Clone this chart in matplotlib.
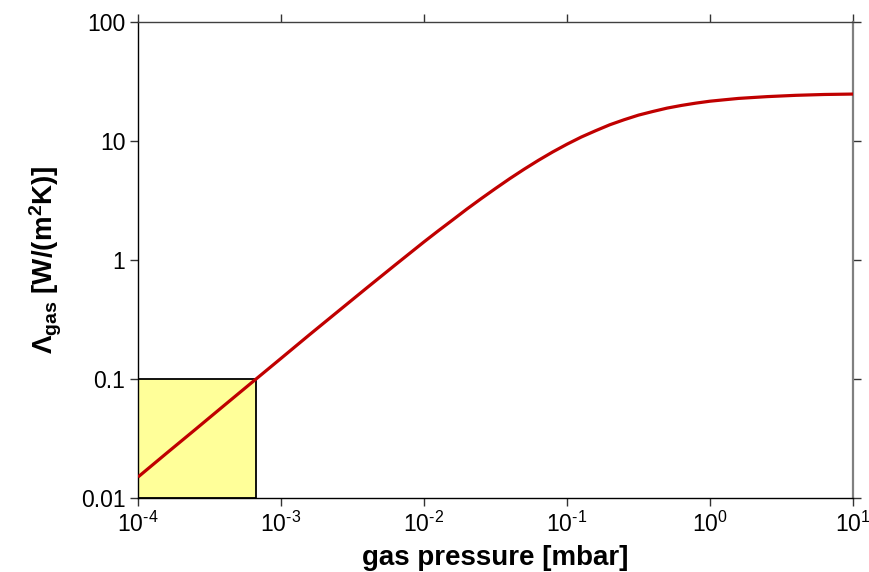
import matplotlib
matplotlib.use("Agg")
import matplotlib.pyplot as plt
from matplotlib.patches import Rectangle
from matplotlib.ticker import FixedLocator, FixedFormatter, NullLocator

plt.rcParams['font.family'] = ['Liberation Sans', 'DejaVu Sans']
plt.rcParams['mathtext.fontset'] = 'custom'
plt.rcParams['mathtext.rm'] = 'Liberation Sans'
plt.rcParams['mathtext.bf'] = 'Liberation Sans:bold'
plt.rcParams['mathtext.it'] = 'Liberation Sans:italic'

# gas pressure [mbar] and thermal conductance
pressure = [1e-4, 1.585e-4, 2.512e-4, 3.981e-4, 6.31e-4, 1e-3, 1.585e-3, 2.512e-3,
            3.981e-3, 6.31e-3, 1e-2, 1.259e-2, 1.585e-2, 1.995e-2, 2.512e-2, 3.162e-2,
            3.981e-2, 5.012e-2, 6.31e-2, 7.943e-2, 0.1, 0.1259, 0.1585, 0.1995,
            0.2512, 0.3162, 0.3981, 0.5012, 0.631, 0.7943, 1.0, 1.259, 1.585, 1.995,
            2.512, 3.162, 3.981, 5.012, 6.31, 7.943, 10.0]
lambda_gas = [0.0150, 0.0238, 0.0376, 0.0596, 0.0943, 0.149, 0.236, 0.371,
              0.583, 0.912, 1.42, 1.76, 2.17, 2.68, 3.28, 3.99,
              4.83, 5.79, 6.88, 8.09, 9.40, 10.8, 12.2, 13.7,
              15.1, 16.5, 17.7, 18.9, 19.9, 20.8, 21.6, 22.2, 22.8, 23.2,
              23.6, 23.9, 24.2, 24.4, 24.6, 24.7, 24.8]

# highlighted region
box_x = [1e-4, 6.7e-4]
box_y = [0.01, 0.1]

xticks = [1e-4, 1e-3, 1e-2, 1e-1, 1e0, 1e1]
xticklabels = [r'$10^{‐4}$', r'$10^{‐3}$', r'$10^{‐2}$', r'$10^{‐1}$', r'$10^{0}$', r'$10^{1}$']
yticks = [0.01, 0.1, 1, 10, 100]
yticklabels = ['0.01', '0.1', '1', '10', '100']

fig = plt.figure(figsize=(8.7, 5.72), dpi=100)
ax = fig.add_axes([138/870, 1-498/572, (853-138)/870, (498-22)/572])
ax.set_xscale('log')
ax.set_yscale('log')
ax.set_xlim(1e-4, 1e1)
ax.set_ylim(0.01, 100)

ax.add_patch(Rectangle((box_x[0], box_y[0]), box_x[1]-box_x[0], box_y[1]-box_y[0],
                       facecolor='#FFFF99', edgecolor='black', linewidth=1.3, zorder=2))
ax.plot(pressure, lambda_gas, color='#C00000', linewidth=2.3, zorder=3,
        solid_joinstyle='round', solid_capstyle='butt')

ax.xaxis.set_major_locator(FixedLocator(xticks))
ax.xaxis.set_major_formatter(FixedFormatter(xticklabels))
ax.xaxis.set_minor_locator(NullLocator())
ax.yaxis.set_major_locator(FixedLocator(yticks))
ax.yaxis.set_major_formatter(FixedFormatter(yticklabels))
ax.yaxis.set_minor_locator(NullLocator())

ax.tick_params(axis='both', which='major', direction='out', length=6, width=1,
               labelsize=16.5, top=True, right=True, color='#333333')
ax.tick_params(axis='x', pad=4)
ax.tick_params(axis='y', pad=3)

for s in ['left', 'bottom']:
    ax.spines[s].set_color('black')
    ax.spines[s].set_linewidth(1.0)
ax.spines['top'].set_color('#404040')
ax.spines['top'].set_linewidth(1.0)
ax.spines['right'].set_color('#808080')
ax.spines['right'].set_linewidth(1.6)

ax.set_xlabel('gas pressure [mbar]', fontsize=20, fontweight='bold', labelpad=6)
ax.set_ylabel(r'Λ$_{\mathbf{gas}}$ [W/(m$^{\mathbf{2}}$K)]', fontsize=20,
              fontweight='bold', labelpad=12)

fig.savefig('out.png', dpi=100)
